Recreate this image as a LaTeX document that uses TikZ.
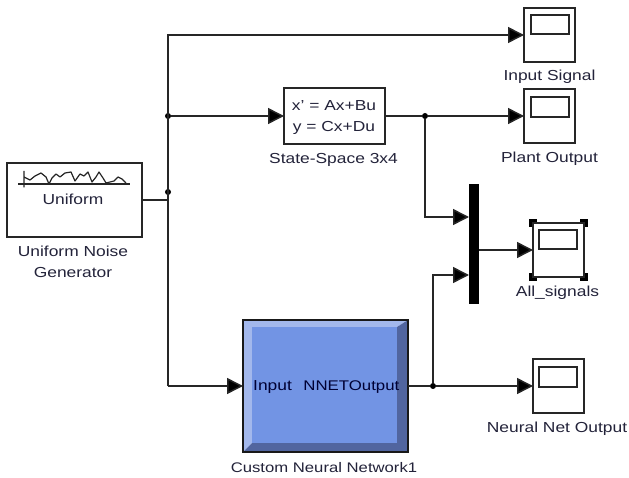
\documentclass[tikz,border=0pt]{standalone}
\usepackage{fontspec}
\setmainfont[FakeStretch=1.2]{Liberation Sans}
\usetikzlibrary{arrows.meta}
\definecolor{txt}{HTML}{23233A}
\definecolor{nnface}{HTML}{7294E4}
\definecolor{nnlight}{HTML}{A3B8EC}
\definecolor{nndark}{HTML}{51659F}
\tikzset{
  x=1pt,y=-1pt,
  block/.style={draw=black!85,line width=1.5pt,fill=white,inner sep=0pt,outer sep=0pt,text=txt},
  scopebox/.style={block,minimum width=51pt,minimum height=54pt},
  screen/.style={draw=black!85,line width=1.5pt,fill=white},
  lab/.style={inner sep=0pt,font=\fontsize{14.5}{21}\selectfont,text=txt,align=center},
  wire/.style={draw=black!85,line width=1.5pt},
  sig/.style={wire,-{Triangle[length=16pt,width=16pt,fill=black]}},
  dot/.style={circle,fill=black,inner sep=0pt,minimum size=6pt},
  handle/.style={fill=black,minimum size=8pt,inner sep=0pt}
}
\begin{document}
\begin{tikzpicture}
\useasboundingbox (0,0) rectangle (629,478);
\fill[white] (0,0) rectangle (629,478);
% blocks
\node[block,minimum width=135pt,minimum height=74pt] (uni) at (74.5,200) {};
\node[lab] (unitxt) at (73,199) {Uniform};
\draw[line width=1.2pt,black!85] (18,184) -- (130,184);
\draw[line width=1.2pt,black!85,line join=round] (24,171) -- (24,187) -- (24,177) -- (30,180) -- (35,176) -- (41,173) -- (46,177) -- (49,184) -- (52,178) -- (56,174) -- (60,177) -- (65,173) -- (71,172) -- (75,181) -- (80,174) -- (84,176) -- (88,172) -- (92,182) -- (96,177) -- (99,172) -- (103,178) -- (106,183) -- (110,182) -- (114,181) -- (118,177) -- (122,179) -- (126,183);
\node[lab] (unilab) at (73,262) {Uniform Noise\\Generator};

\node[block,minimum width=101pt,minimum height=56pt] (ss) at (334.5,116) {};
\node[lab] (sstxt) at (334,117.5) {x' = Ax+Bu\\y = Cx+Du};
\node[lab] (sslab) at (333.5,159.5) {State-Space 3x4};

\node[scopebox] (s1) at (549.5,35) {};
\node[lab] (s1lab) at (549.5,77) {Input Signal};
\node[scopebox] (s2) at (549.5,116) {};
\node[lab] (s2lab) at (549.5,159) {Plant Output};
\node[scopebox] (s3) at (558.5,250) {};
\node[lab] (s3lab) at (557.5,293) {All\_signals};
\node[scopebox] (s4) at (558.5,386) {};
\node[lab] (s4lab) at (557,428.5) {Neural Net Output};

\draw[screen] (531,15) rectangle (569,34);
\draw[screen] (531,97) rectangle (569,117);
\draw[screen] (539,230) rectangle (577,249);
\draw[screen] (539,367) rectangle (577,387);

\foreach \n/\a in {h1/north west,h2/north east,h3/south west,h4/south east}{
  \node[handle] (\n) at (s3.\a) {};
}
\fill[white] (533,223) rectangle (537,227);
\fill[white] (580,223) rectangle (584,227);
\fill[white] (533,273) rectangle (537,277);
\fill[white] (580,273) rectangle (584,277);
\draw[line width=1.5pt,black!85] (s3.north west) rectangle (s3.south east);

\node[fill=black,minimum width=10pt,minimum height=120pt,inner sep=0pt,outer sep=0pt] (mux) at (474,244) {};

% neural net block
\node[inner sep=0pt,outer sep=0pt,minimum width=165pt,minimum height=132pt] (nn) at (325.5,386) {};
\fill[nnlight] (243,320) -- (408,320) -- (397,327) -- (252,327) -- (252,443) -- (243,452) -- cycle;
\fill[nndark] (408,320) -- (408,452) -- (243,452) -- (252,443) -- (397,443) -- (397,327) -- cycle;
\fill[nnface] (252,327) rectangle (397,443);
\draw[line width=1.5pt,black!90] (nn.north west) rectangle (nn.south east);
\node[lab,anchor=west,text=black!80!blue] (nnin) at (253,387) {Input};
\node[lab,anchor=east,text=black!80!blue,font=\fontsize{14}{21}\selectfont] (nnout) at (399.5,387) {NNETOutput};
\node[lab,font=\fontsize{13.9}{21}\selectfont] (nnlab) at (324,468) {Custom Neural Network1};

% connectors
\node[dot] (j1) at (168,192) {};
\node[dot] (j2) at (168,116) {};
\node[dot] (j3) at (425,116) {};
\node[dot] (j4) at (433,386) {};
\coordinate (m1) at (469,217);
\coordinate (m2) at (469,275);

\draw[wire] (uni.east) -- (168,200);
\draw[sig,line join=miter] (168,386) -- (168,35) -- (s1.west);
\draw[sig] (168,386) -- (nn.west);
\draw[sig] (j2) -- (ss.west);
\draw[wire] (ss.east) -- (j3);
\draw[sig] (j3) -- (s2.west);
\draw[sig] (j3) |- (m1);
\draw[sig] (j4) |- (m2);
\draw[wire] (nn.east) -- (j4);
\draw[sig] (j4) -- (s4.west);
\draw[sig] (mux.east |- s3) -- (s3.west);
\end{tikzpicture}
\end{document}
